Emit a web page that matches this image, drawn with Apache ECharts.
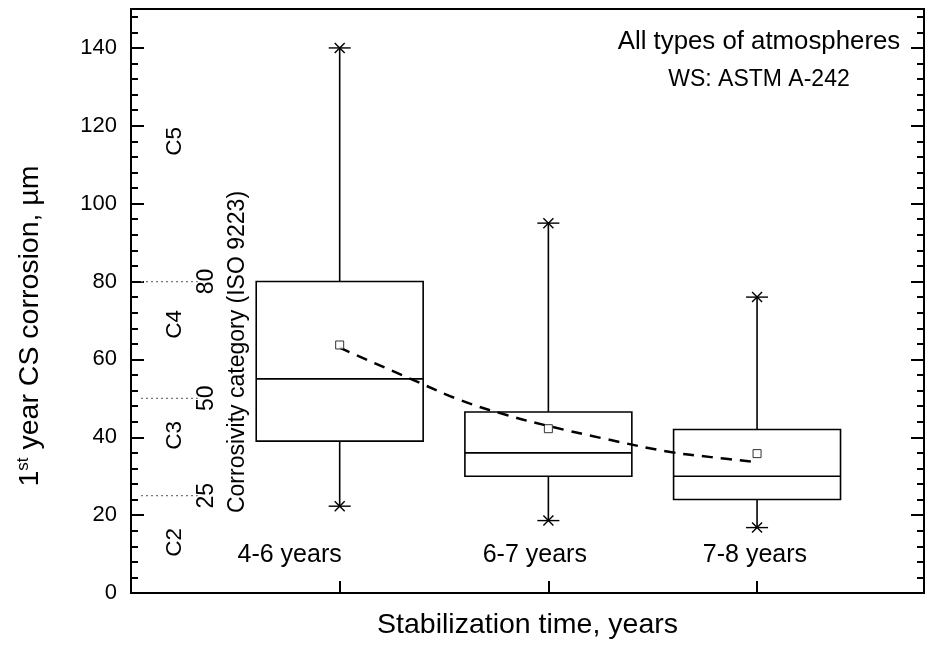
<!DOCTYPE html>
<html><head><meta charset="utf-8">
<script src="https://cdn.jsdelivr.net/npm/echarts@6/dist/echarts.min.js"></script>
<style>html,body{margin:0;padding:0;background:#fff}#c{width:926px;height:651px}</style>
</head><body><div id="c"></div>
<script>
// ---- data ----
const categories = ['4-6 years', '6-7 years', '7-8 years'];
const catX = [1, 2, 3];
const whiskerLow = [22.3, 18.6, 16.8];
const q1 = [39, 30, 24];
const median = [55, 36, 30];
const q3 = [80, 46.5, 42];
const whiskerHigh = [140, 95, 76];
const means = [63.7, 42.2, 35.8];
const fitX = [1, 1.34, 1.58, 1.8, 2, 2.28, 2.585, 2.78, 3];
const fitY = [63, 55, 49.5, 45.7, 42.9, 39.5, 36.2, 34.9, 33.6];
const isoLimits = [25, 50, 80];
const zoneNames = ['C2', 'C3', 'C4', 'C5'];
// annotation anchor positions (in axis units)
const zoneLabelY = [13, 40.5, 69, 116];
const catLabelX = [0.76, 1.935, 2.99];
const catLabelY = 9.8;

const FONT = '"Liberation Sans", Arial, sans-serif';
const chart = echarts.init(document.getElementById('c'), null, { renderer: 'canvas' });

function star(p) {
  const s = { stroke: '#000', lineWidth: 1.4 };
  return [
    { type: 'line', shape: { x1: p[0] - 11, y1: p[1], x2: p[0] + 11, y2: p[1] }, style: s },
    { type: 'line', shape: { x1: p[0] - 5, y1: p[1] - 5, x2: p[0] + 5, y2: p[1] + 5 }, style: s },
    { type: 'line', shape: { x1: p[0] - 5, y1: p[1] + 5, x2: p[0] + 5, y2: p[1] - 5 }, style: s }
  ];
}

function textSeries(name, data, size, rotated) {
  return {
    type: 'custom', name: name, data: data, encode: { x: 0, y: 1 }, z: 5,
    renderItem: (params, api) => {
      const d = data[params.dataIndex];
      const p = api.coord([d[0], d[1]]);
      return { type: 'text', x: p[0], y: p[1], rotation: rotated ? Math.PI / 2 : 0,
        style: { text: d[2], fill: '#000', font: size + 'px ' + FONT, textAlign: 'center', textVerticalAlign: 'middle' } };
    }
  };
}

const boxData = catX.map((x, i) => [x, whiskerLow[i], q1[i], median[i], q3[i], whiskerHigh[i]]);

const yBase = { type: 'value', min: 0, max: 150, splitLine: { show: false },
  axisLine: { show: true, lineStyle: { color: '#000', width: 2 } } };

const option = {
  animation: false,
  backgroundColor: '#fff',
  grid: { left: 131, top: 9, right: 2, bottom: 58, show: true, borderColor: '#000', borderWidth: 2, backgroundColor: 'transparent' },
  xAxis: [{
    type: 'value', min: 0, max: 3.8, interval: 1, position: 'bottom',
    splitLine: { show: false },
    axisLine: { show: true, onZero: false, lineStyle: { color: '#000', width: 2 } },
    axisTick: { show: true, inside: true, length: 12, lineStyle: { color: '#000', width: 2 } },
    axisLabel: { show: false },
    name: 'Stabilization time, years', nameLocation: 'middle', nameGap: 18,
    nameTextStyle: { color: '#000', fontSize: 28.5, fontFamily: FONT }
  }],
  yAxis: [
    Object.assign({}, yBase, {
      position: 'left', interval: 20,
      axisTick: { show: true, inside: true, length: 13, lineStyle: { color: '#000', width: 2 } },
      axisLabel: { margin: 14, color: '#000', fontSize: 22, fontFamily: FONT, formatter: v => (v % 20 === 0 ? String(v) : '') }
    }),
    Object.assign({}, yBase, {
      position: 'left', interval: 4,
      axisTick: { show: true, inside: true, length: 7, lineStyle: { color: '#000', width: 2 } },
      axisLabel: { show: false }
    }),
    Object.assign({}, yBase, {
      position: 'right', interval: 20,
      axisTick: { show: true, inside: true, length: 13, lineStyle: { color: '#000', width: 2 } },
      axisLabel: { show: false }
    }),
    Object.assign({}, yBase, {
      position: 'right', interval: 4,
      axisTick: { show: true, inside: true, length: 7, lineStyle: { color: '#000', width: 2 } },
      axisLabel: { show: false }
    })
  ],
  graphic: [
    { type: 'text', x: 759, y: 42, style: { text: 'All types of atmospheres', font: '25.8px ' + FONT, fill: '#000', textAlign: 'center', textVerticalAlign: 'middle' } },
    { type: 'text', x: 759, y: 80, style: { text: 'WS: ASTM A-242', font: '23px ' + FONT, fill: '#000', textAlign: 'center', textVerticalAlign: 'middle' } },
    { type: 'text', x: 238, y: 352, rotation: Math.PI / 2, style: { text: 'Corrosivity category (ISO 9223)', font: '23px ' + FONT, fill: '#000', textAlign: 'center', textVerticalAlign: 'middle' } },
    { type: 'text', x: 30, y: 326, rotation: Math.PI / 2, style: {
        text: '{a|1}{s|st}{a| year CS corrosion, µm}', textAlign: 'center', textVerticalAlign: 'middle',
        rich: { a: { fontSize: 28.5, fontFamily: FONT, fill: '#000', color: '#000', verticalAlign: 'bottom' },
                s: { fontSize: 17, fontFamily: FONT, fill: '#000', color: '#000', verticalAlign: 'top', padding: [0, 0, 13, 0] } } } }
  ],
  series: [
    {
      type: 'custom', name: 'limits',
      data: isoLimits.map(v => [0, v]),
      encode: { x: 0, y: 1 },
      renderItem: (params, api) => {
        const a = api.coord([0, api.value(1)]);
        const b = api.coord([0.32, api.value(1)]);
        return { type: 'line', shape: { x1: a[0] + 10, y1: a[1], x2: b[0], y2: b[1] },
          style: { stroke: '#777', lineWidth: 1.3, lineDash: [2, 3] } };
      },
      z: 1
    },
    {
      type: 'custom', name: 'box',
      data: boxData,
      encode: { x: 0, y: [1, 2, 3, 4, 5] },
      renderItem: (params, api) => {
        const x = api.value(0);
        const lo = api.value(1), a = api.value(2), m = api.value(3), b = api.value(4), hi = api.value(5);
        const hw = 0.4;
        const tl = api.coord([x - hw, b]), br = api.coord([x + hw, a]);
        const m1 = api.coord([x - hw, m]), m2 = api.coord([x + hw, m]);
        const pHi = api.coord([x, hi]), pLo = api.coord([x, lo]);
        const pB = api.coord([x, b]), pA = api.coord([x, a]);
        const st = { stroke: '#000', lineWidth: 1.6, fill: null };
        return { type: 'group', children: [
          { type: 'rect', shape: { x: tl[0], y: tl[1], width: br[0] - tl[0], height: br[1] - tl[1] }, style: Object.assign({}, st) },
          { type: 'line', shape: { x1: m1[0], y1: m1[1], x2: m2[0], y2: m2[1] }, style: Object.assign({}, st) },
          { type: 'line', shape: { x1: pB[0], y1: pB[1], x2: pHi[0], y2: pHi[1] }, style: Object.assign({}, st) },
          { type: 'line', shape: { x1: pA[0], y1: pA[1], x2: pLo[0], y2: pLo[1] }, style: Object.assign({}, st) }
        ].concat(star(pHi), star(pLo)) };
      },
      z: 2
    },
    {
      type: 'line', name: 'fit', smooth: 0.4, symbol: 'none',
      data: fitX.map((x, i) => [x, fitY[i]]),
      lineStyle: { color: '#000', width: 2.5, type: [11, 8] },
      z: 3
    },
    {
      type: 'scatter', name: 'mean',
      data: catX.map((x, i) => [x, means[i]]),
      symbol: 'rect', symbolSize: 8,
      itemStyle: { color: '#fff', borderColor: '#000', borderWidth: 1 },
      z: 4
    },
    textSeries('categoryLabels', categories.map((c, i) => [catLabelX[i], catLabelY, c]), 25, false),
    textSeries('zones', zoneNames.map((n, i) => [0.21, zoneLabelY[i], n]), 22.5, true),
    textSeries('limitLabels', isoLimits.map(v => [0.363, v, String(v)]), 23, true)
  ]
};
chart.setOption(option);
</script>
</body></html>
